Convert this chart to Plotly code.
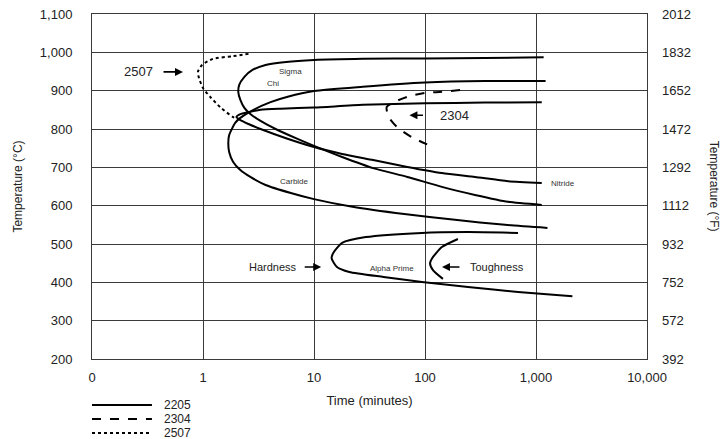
import plotly.graph_objects as go

# ---- axis ticks ----
x_tickvals = [0.1, 1, 10, 100, 1000, 10000]
x_ticktext = ["0", "1", "10", "100", "1,000", "10,000"]
c_tickvals = [200, 300, 400, 500, 600, 700, 800, 900, 1000, 1100]
f_tickvals = [392, 572, 752, 932, 1112, 1292, 1472, 1652, 1832, 2012]

# ---- 2205 curves (time in minutes, temperature in degC) ----
sigma_t = [1172, 348, 100, 27.5, 10, 5.6, 3.66, 2.79, 2.36, 2.12, 2.08, 2.17, 2.36, 2.67,
           3.30, 4.51, 6.86, 10, 17.9, 34.1, 69.3, 142, 282, 560, 1127]
sigma_T = [987, 985, 984, 983, 980, 975, 967, 954, 936, 915, 896, 876, 855, 839,
           821, 800, 776, 756, 727, 698, 675, 649, 628, 610, 602]

nitride_t = [1127, 348, 100, 27.5, 10, 5.01, 3.30, 2.57, 2.17, 2.0, 2.17, 2.57, 3.30,
             5.6, 10, 17.9, 34.1, 69.3, 142, 282, 560, 1127]
nitride_T = [870, 869, 867, 863, 856, 853, 850, 844, 839, 831, 823, 813, 800,
             776, 753, 735, 719, 701, 685, 675, 664, 659]

carbide_t = [1220, 348, 100, 27.5, 10, 5.80, 4.06, 2.85, 2.17, 1.95, 1.72, 1.69,
             1.72, 1.87, 2.17, 2.67, 3.66, 6.18, 10, 22.2, 65.0, 186, 526, 1268]
carbide_T = [925, 925, 921, 910, 899, 884, 870, 850, 829, 816, 784, 763,
             740, 714, 693, 675, 654, 633, 617, 597, 578, 563, 550, 542]

alpha_t = [689, 244, 93.8, 29.3, 17.9, 15.1, 14.4, 16.1, 20.8, 42.3, 93.8, 244, 689, 2128]
alpha_T = [529, 531, 529, 518, 503, 479, 463, 440, 427, 414, 401, 388, 375, 364]

tough_t = [198, 142, 116, 111, 118, 145]
tough_T = [513, 492, 463, 450, 432, 409]

# ---- 2304 and 2507 ----
d2304_t = [207, 142, 100, 69.3, 52.5, 45.1, 47.1, 56.0, 75.7, 118]
d2304_T = [902, 897, 894, 884, 870, 857, 831, 805, 779, 753]

d2507_t = [2.57, 1.87, 1.23, 0.98, 0.90, 0.92, 1.0, 1.16, 1.43, 1.87, 2.08]
d2507_T = [996, 990, 983, 967, 949, 933, 907, 884, 857, 831, 826]

legend_names = ["2205", "2304", "2507"]

FONT = "Liberation Sans, Arial, sans-serif"
fig = go.Figure()

solid = dict(color="black", width=2, shape="spline", smoothing=0.6)
for tt, TT in [(sigma_t, sigma_T), (nitride_t, nitride_T), (carbide_t, carbide_T),
               (alpha_t, alpha_T), (tough_t, tough_T)]:
    fig.add_trace(go.Scatter(x=tt, y=TT, mode="lines", line=solid,
                             showlegend=False, hoverinfo="skip"))
fig.add_trace(go.Scatter(x=d2304_t, y=d2304_T, mode="lines",
                         line=dict(color="black", width=2, dash="dash", shape="spline", smoothing=0.6),
                         showlegend=False, hoverinfo="skip"))
fig.add_trace(go.Scatter(x=d2507_t, y=d2507_T, mode="lines",
                         line=dict(color="black", width=2, dash="dot", shape="spline", smoothing=0.6),
                         showlegend=False, hoverinfo="skip"))
# invisible trace to activate the Fahrenheit axis
fig.add_trace(go.Scatter(x=[0.1], y=[392], yaxis="y2", mode="markers",
                         marker=dict(opacity=0), showlegend=False, hoverinfo="skip"))

grid = "#3a3a3a"
fig.update_layout(
    width=724, height=439,
    margin=dict(l=92, r=77, t=14, b=80, autoexpand=False),
    plot_bgcolor="white", paper_bgcolor="white",
    font=dict(family=FONT, color="#222", size=13),
    xaxis=dict(type="log", range=[-1, 4], tickvals=x_tickvals, ticktext=x_ticktext,
               showgrid=True, gridcolor=grid, gridwidth=1, showline=True, linecolor=grid,
               linewidth=1, mirror=True, ticks="", ticklabelstandoff=6, zeroline=False,
               tickfont=dict(size=13), automargin=False,
               title=dict(text="Time (minutes)", font=dict(size=13), standoff=12)),
    yaxis=dict(range=[200, 1100], tickvals=c_tickvals, tickformat=",", showgrid=True,
               gridcolor=grid, gridwidth=1, showline=True, linecolor=grid, linewidth=1,
               mirror=True, ticks="", ticklabelstandoff=16, zeroline=False,
               tickfont=dict(size=13), automargin=False,
               title=dict(text="Temperature (°C)", font=dict(size=12), standoff=14)),
    yaxis2=dict(range=[392, 2012], tickvals=f_tickvals, overlaying="y", side="right",
                showgrid=False, zeroline=False, ticks="", ticklabelstandoff=14,
                tickfont=dict(size=13), showline=False, automargin=False),
    showlegend=False,
)

ann_small = dict(size=8, color="#333", family=FONT)
anns = [
    dict(x=-0.577, y=949, text="2507", showarrow=False, font=dict(size=13)),
    dict(x=-0.18, y=949, text="", showarrow=True, ax=-21, ay=0, arrowhead=2,
         arrowsize=1, arrowwidth=1.6, arrowcolor="black"),
    dict(x=0.791, y=951, text="Sigma", showarrow=False, font=ann_small),
    dict(x=0.627, y=920, text="Chi", showarrow=False, font=ann_small),
    dict(x=0.827, y=664, text="Carbide", showarrow=False, font=ann_small),
    dict(x=3.241, y=659, text="Nitride", showarrow=False, font=ann_small),
    dict(x=2.27, y=836, text="2304", showarrow=False, font=dict(size=13)),
    dict(x=1.86, y=836, text="", showarrow=True, ax=15, ay=0, arrowhead=2,
         arrowsize=1, arrowwidth=1.6, arrowcolor="black"),
    dict(x=0.627, y=440, text="Hardness", showarrow=False, font=dict(size=11)),
    dict(x=1.065, y=440, text="", showarrow=True, ax=-18, ay=0, arrowhead=2,
         arrowsize=1, arrowwidth=1.6, arrowcolor="black"),
    dict(x=1.70, y=437, text="Alpha Prime", showarrow=False, font=ann_small),
    dict(x=2.153, y=440, text="", showarrow=True, ax=19, ay=0, arrowhead=2,
         arrowsize=1, arrowwidth=1.6, arrowcolor="black"),
    dict(x=2.649, y=440, text="Toughness", showarrow=False, font=dict(size=11)),
]
for a in anns:
    a.update(xref="x", yref="y")
    fig.add_annotation(**a)

# right axis title (reads top to bottom)
fig.add_annotation(xref="paper", yref="paper", x=1.122, y=0.5, xanchor="center",
                   yanchor="middle", text="Temperature (°F)",
                   textangle=90, showarrow=False, font=dict(size=12))

# legend drawn below plot
dashes = ["solid", "dash", "dot"]
leg_y = [-0.1333, -0.1739, -0.2145]
for name, d, yy in zip(legend_names, dashes, leg_y):
    fig.add_shape(type="line", xref="paper", yref="paper", x0=0, x1=0.108, y0=yy, y1=yy,
                  line=dict(color="black", width=2, dash=d))
    fig.add_annotation(xref="paper", yref="paper", x=0.126, y=yy, text=name,
                       xanchor="left", yanchor="middle", showarrow=False, font=dict(size=12))

fig.write_html("out.html")
